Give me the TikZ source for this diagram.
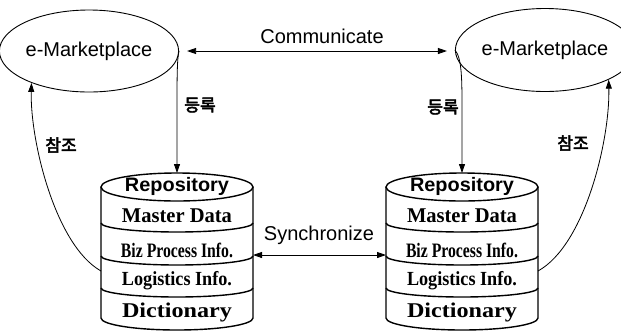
\documentclass[tikz,border=0pt]{standalone}
\usepackage{fontspec}
\usepackage{graphicx}
\setmainfont{Liberation Serif}
\setsansfont{Liberation Sans}
\newfontfamily\kr{Noto Sans CJK KR}[FakeBold=3]
\usetikzlibrary{shapes.geometric,arrows.meta}
\newcommand\fitw[2]{\resizebox{#1}{\height}{#2}}
\tikzset{
  mk/.style={ellipse,draw,line width=0.9pt,inner sep=0pt,font=\sffamily\fontsize{20}{24}\selectfont},
  conn/.style={line width=0.8pt},
  tip/.style={-{Triangle[length=9pt,width=6pt]}},
  dbl/.style={{Triangle[length=9pt,width=6pt]}-{Triangle[length=9pt,width=6pt]}},
  lbl/.style={inner sep=0pt,font=\sffamily\fontsize{20}{24}\selectfont},
  kor/.style={inner sep=0pt,font=\kr\fontsize{17}{19}\selectfont},
  cyl/.style={line width=1.4pt},
  sanstxt/.style={inner sep=0pt,font=\sffamily\bfseries\fontsize{19.5}{22}\selectfont},
  sertxt/.style={inner sep=0pt,font=\bfseries\fontsize{21}{23}\selectfont}
}
\newcommand\drawdb[2]{%
  \draw[cyl] (#1,187) ellipse[x radius=76, y radius=14];
  \draw[cyl] (#1-76,187) -- (#1-76,318) arc[start angle=180,end angle=0,x radius=76,y radius=12] -- (#1+76,187);
  \foreach \yy in {223,256,288} {\draw[cyl] (#1-76,\yy) arc[start angle=180,end angle=0,x radius=76,y radius=9];}
  \coordinate (#2top) at (#1,173);
  \coordinate (#2west) at (#1-76,271);
  \coordinate (#2east) at (#1+76,271);
  \coordinate (#2ws) at (#1-76,255);
  \coordinate (#2es) at (#1+76,255);
  \node[sanstxt] (#2rep) at (#1,186) {\fitw{104pt}{Repository}};
  \node[sertxt] (#2mas) at (#1,216) {\fitw{110pt}{Master Data}};
  \node[sertxt] (#2biz) at (#1,250) {\fontsize{20.5}{22}\selectfont\fitw{112pt}{Biz Process Info.}};
  \node[sertxt] (#2log) at (#1,281) {\fontsize{20}{22}\selectfont\fitw{110pt}{Logistics Info.}};
  \node[sertxt] (#2dic) at (#1,312) {\fitw{110pt}{Dictionary}};
}
\begin{document}
\begin{tikzpicture}[x=1pt,y=1pt,yscale=-1]
\useasboundingbox (0,0) rectangle (621,333);
\node[mk, minimum width=162pt, minimum height=82pt] (EL) at (89,51) {e-Marketplace};
\node[mk, minimum width=152pt, minimum height=83pt] (ER) at (545,50) {e-Marketplace};
\drawdb{177}{L}
\drawdb{462}{R}
% communicate
\draw[conn, dbl, shorten <=8pt, shorten >=8pt] (EL.east) -- (EL.east -| ER.west);
\node[lbl] (comm) at (322,36) {Communicate};
% register
\draw[conn, tip] (EL.east) .. controls (177,58) and (177,80) .. (177,110) -- (Ltop);
\draw[conn, tip] (ER.west) .. controls (462,58) and (462,80) .. (462,110) -- (Rtop);
\node[kor] (regL) at (200,105) {등록};
\node[kor] (regR) at (443,107) {등록};
% refer
\draw[conn, tip] (Lwest) .. controls (55,245) and (30,140) .. (EL.-151);
\draw[conn, tip] (Reast) .. controls (585,245) and (610,140) .. (ER.-25);
\node[kor] (refL) at (61,145) {참조};
\node[kor] (refR) at (573,143) {참조};
% synchronize
\draw[conn, dbl] (Les) -- (Rws);
\node[lbl] (sync) at (319,235) {Synchronize};
\end{tikzpicture}
\end{document}
